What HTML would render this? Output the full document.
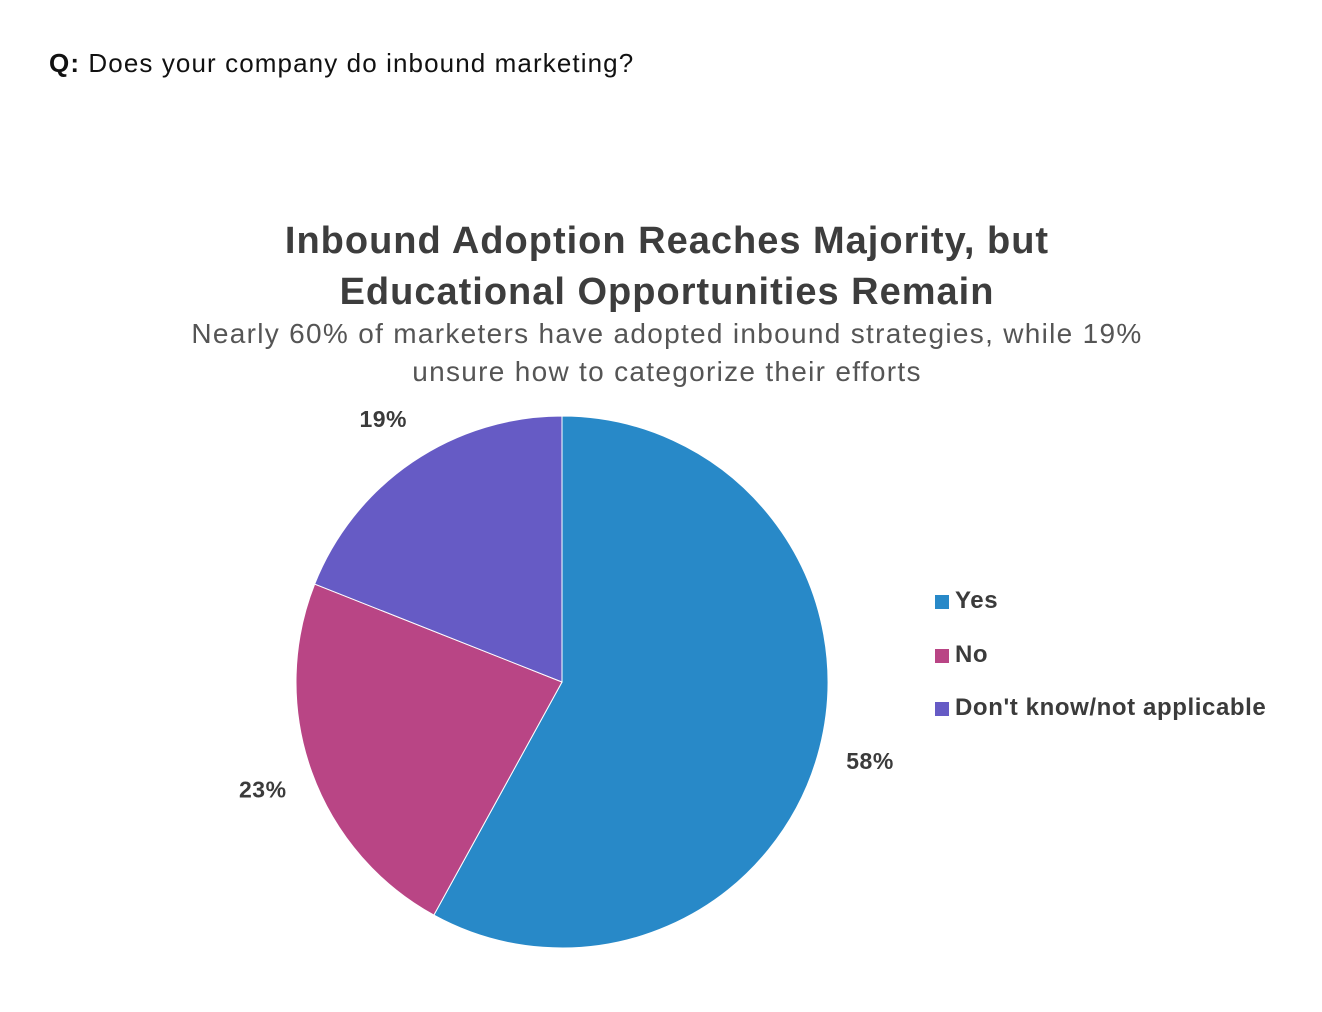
<!DOCTYPE html>
<html><head><meta charset="utf-8"><style>
body{margin:0;width:1322px;height:1012px;background:#fff;font-family:"Liberation Sans",sans-serif;color:#3b3b3b;position:relative;overflow:hidden}
.abs{position:absolute}
</style></head><body>
<div class="abs" style="left:49px;top:48px;font-size:26px;color:#111;letter-spacing:1.1px"><b>Q:</b> Does your company do inbound marketing?</div>
<div class="abs" style="left:0;width:1334px;top:216px;text-align:center;font-size:38px;font-weight:bold;line-height:51px;color:#3d3d3d;letter-spacing:1px">Inbound Adoption Reaches Majority, but<br>Educational Opportunities Remain</div>
<div class="abs" style="left:0;width:1334px;top:315px;text-align:center;font-size:28px;line-height:38px;color:#555;letter-spacing:1.3px">Nearly 60% of marketers have adopted inbound strategies, while 19%<br>unsure how to categorize their efforts</div>
<svg class="abs" style="left:0;top:0" width="1322" height="1012">
<g id="slices"></g><g id="labels"></g>
</svg>
<div class="abs" style="left:935px;top:587px;font-size:24px;font-weight:bold;color:#3b3b3b;letter-spacing:0.6px">
<div style="height:54px;display:flex;align-items:flex-start"><span style="width:14px;height:14px;background:#2889c8;margin-top:8px;margin-right:6px"></span>Yes</div>
<div style="height:53px;display:flex;align-items:flex-start"><span style="width:14px;height:14px;background:#b94585;margin-top:8px;margin-right:6px"></span>No</div>
<div style="display:flex;align-items:flex-start"><span style="width:14px;height:14px;background:#665bc5;margin-top:8px;margin-right:6px"></span>Don't know/not applicable</div>
</div>
<script>
const categories=["Yes","No","Don't know/not applicable"];
const values=[58,23,19];
const valueLabels=["58%","23%","19%"];
const colors=["#2889c8","#b94585","#665bc5"];
const cx=562,cy=682,r=266,lr=318;
const ns="http://www.w3.org/2000/svg";
const total=values.reduce((a,b)=>a+b,0);
let a0=0;
const sg=document.getElementById('slices'),lg=document.getElementById('labels');
function pt(a,rr){return [cx+rr*Math.sin(a),cy-rr*Math.cos(a)];}
values.forEach((v,i)=>{
  const a1=a0+v/total*2*Math.PI;
  const p0=pt(a0,r),p1=pt(a1,r);
  const large=(a1-a0)>Math.PI?1:0;
  const p=document.createElementNS(ns,'path');
  p.setAttribute('d',`M${cx},${cy}L${p0[0]},${p0[1]}A${r},${r} 0 ${large} 1 ${p1[0]},${p1[1]}Z`);
  p.setAttribute('fill',colors[i]);
  p.setAttribute('stroke','#fff');p.setAttribute('stroke-width','1');
  
  
  sg.appendChild(p);
  const am=(a0+a1)/2,lp=pt(am,lr);
  const t=document.createElementNS(ns,'text');
  t.setAttribute('x',lp[0]);t.setAttribute('y',lp[1]+8);
  t.setAttribute('text-anchor','middle');
  t.setAttribute('font-size','23');t.setAttribute('font-weight','bold');t.setAttribute('fill','#3b3b3b');
  t.setAttribute('letter-spacing','0.5');
  t.setAttribute('font-family','Liberation Sans, sans-serif');
  t.textContent=valueLabels[i];
  
  
  lg.appendChild(t);
  a0=a1;
});
</script>
</body></html>
